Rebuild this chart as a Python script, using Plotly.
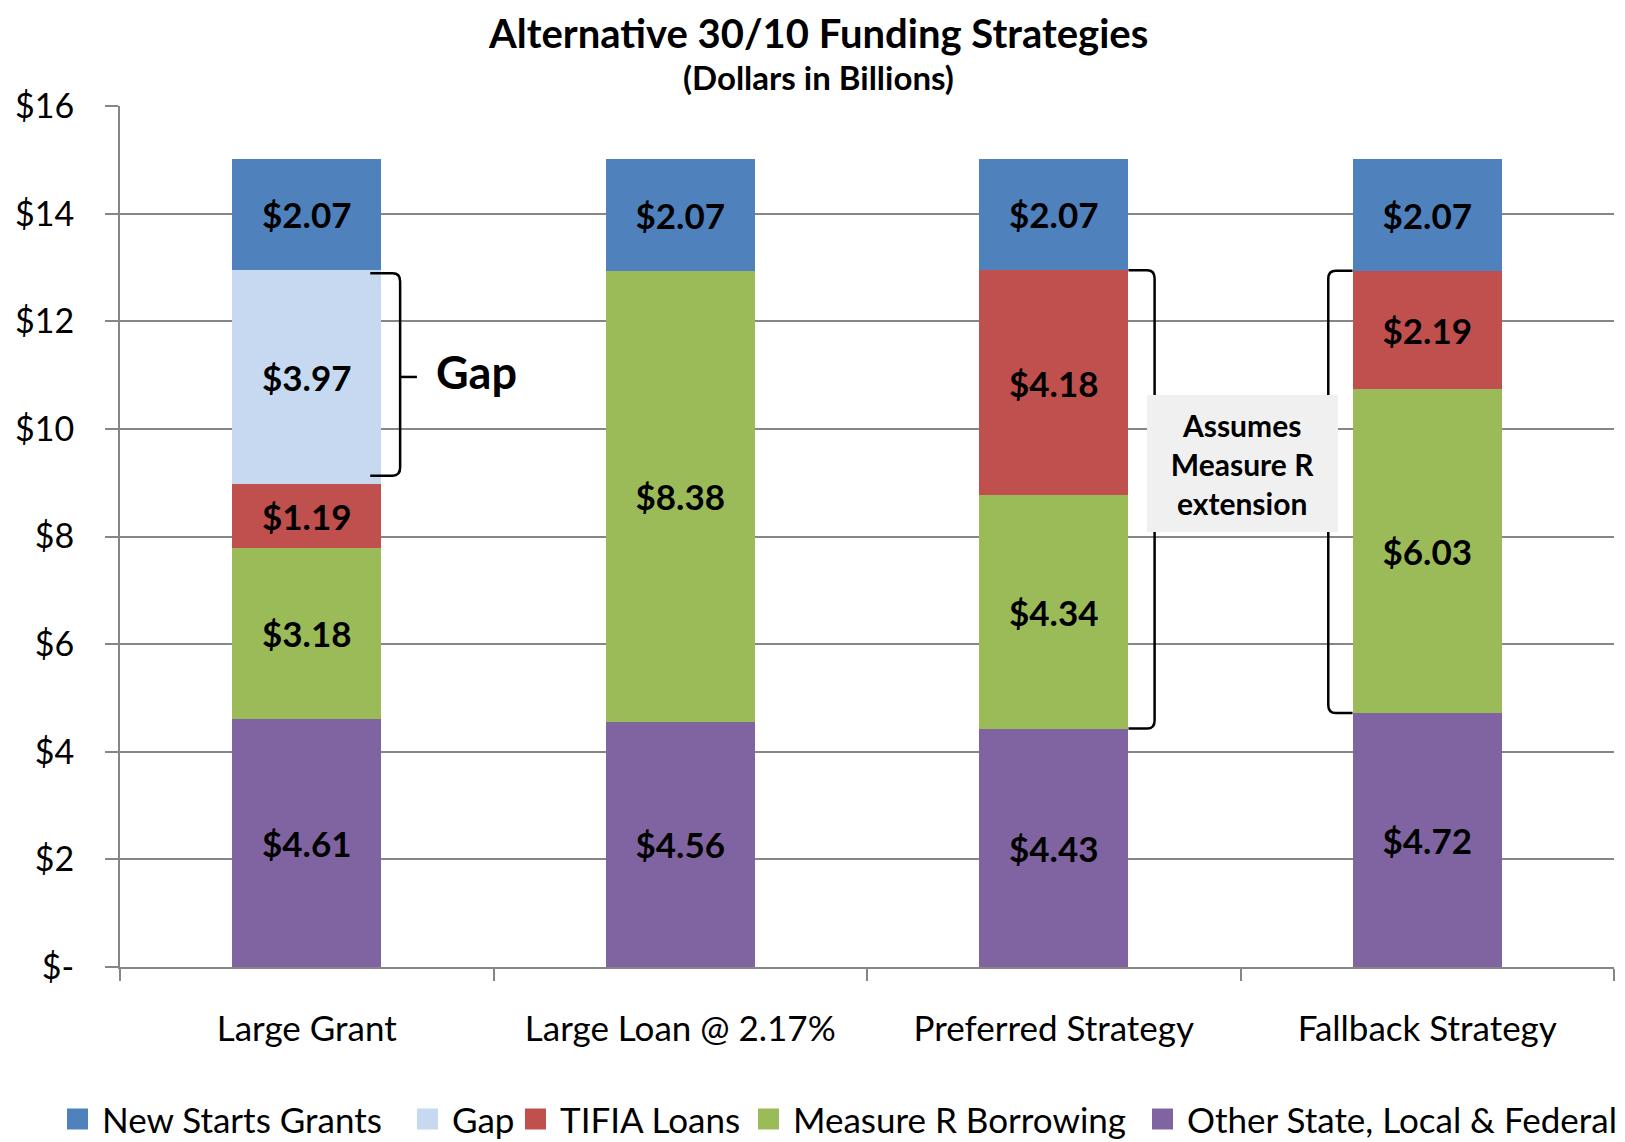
import plotly.graph_objects as go

categories = ["Large Grant", "Large Loan @ 2.17%", "Preferred Strategy", "Fallback Strategy"]
other = [4.61, 4.56, 4.43, 4.72]
measure_r = [3.18, 8.38, 4.34, 6.03]
tifia = [1.19, None, 4.18, 2.19]
gap = [3.97, None, None, None]
new_starts = [2.07, 2.07, 2.07, 2.07]

series = [
    ("Other State, Local & Federal", other, "#8064A2"),
    ("Measure R Borrowing", measure_r, "#9BBB59"),
    ("TIFIA Loans", tifia, "#C0504D"),
    ("Gap", gap, "#C6D9F1"),
    ("New Starts Grants", new_starts, "#4F81BD"),
]

ytick_vals = [0, 2, 4, 6, 8, 10, 12, 14, 16]
ytick_text = ["$-", "$2", "$4", "$6", "$8", "$10", "$12", "$14", "$16"]

FONT = "Lato, Carlito, Calibri, sans-serif"
BAR_W = 0.4
OFF = 8  # default page body margin
W, H = 1625 - OFF, 1142 - OFF
ML, MR, MT, MB = 120 - OFF, 11, 106 - OFF, 175
PW, PH = W - ML - MR, H - MT - MB

def px_x(px):
    return (px - OFF - ML) / PW

def px_y(py):
    return (H - MB - (py - OFF)) / PH

fig = go.Figure()
for name, vals, col in series:
    fig.add_trace(go.Bar(
        x=categories, y=vals, name=name, marker=dict(color=col, line=dict(width=0)),
        width=BAR_W, showlegend=False,
        texttemplate=["$%{y:.2f}" if v is not None else "" for v in vals],
        textposition="inside", insidetextanchor="middle", textangle=0,
        textfont=dict(family=FONT, size=35, color="black", weight="bold"),
        hoverinfo="skip",
    ))

def cum(idx, upto):
    s = 0.0
    for _, vals, _c in series[:upto]:
        v = vals[idx]
        s += v if v is not None else 0.0
    return s

def bracket(x_edge, x_vert, y_top, y_bot, cx, cy):
    s = 1 if x_vert > x_edge else -1
    return (f"M {x_edge},{y_top} L {x_vert - s*cx},{y_top} Q {x_vert},{y_top} {x_vert},{y_top - cy} "
            f"L {x_vert},{y_bot + cy} Q {x_vert},{y_bot} {x_vert - s*cx},{y_bot} L {x_edge},{y_bot}")

line = dict(color="black", width=2.5)
cx, cy = 0.02, 0.15
hw = BAR_W / 2

# Gap bracket (Large Grant)
g_bot = cum(0, 3)
g_top = cum(0, 4)
g_mid = (g_bot + g_top) / 2
xv0 = 0 + hw + 0.05
fig.add_shape(type="path", path=bracket(0 + hw - 0.03, xv0, g_top - 0.06, g_bot + 0.15, cx, cy),
              line=line, xref="x", yref="y")
fig.add_shape(type="path", path=f"M {xv0},{g_mid} L {xv0 + 0.045},{g_mid}", line=line, xref="x", yref="y")
fig.add_annotation(x=0.34, y=g_mid + 0.1, text="<b>Gap</b>", showarrow=False, xanchor="left", yanchor="middle",
                   font=dict(family=FONT, size=45, color="black"))

# Preferred bracket
p_top = cum(2, 3)
p_bot = cum(2, 1)
fig.add_shape(type="path", path=bracket(2 + hw, 2 + hw + 0.07, p_top, p_bot, cx, cy),
              line=line, xref="x", yref="y")
# Fallback bracket
f_top = cum(3, 3)
f_bot = cum(3, 1)
fig.add_shape(type="path", path=bracket(3 - hw, 3 - hw - 0.065, f_top, f_bot, cx, cy),
              line=line, xref="x", yref="y")

fig.add_annotation(x=2.505, y=9.36, text="<b>Assumes<br>Measure R<br>extension</b>", showarrow=False,
                   xanchor="center", yanchor="middle", bgcolor="#F0F0F0", borderpad=4, borderwidth=0,
                   width=183, height=129, font=dict(family=FONT, size=30, color="black"))

# Title and subtitle
fig.add_annotation(xref="paper", yref="paper", x=px_x(818), y=px_y(33), text="<b>Alternative 30/10 Funding Strategies</b>",
                   showarrow=False, xanchor="center", yanchor="middle", font=dict(family=FONT, size=40, color="black"))
fig.add_annotation(xref="paper", yref="paper", x=px_x(818), y=px_y(77), text="<b>(Dollars in Billions)</b>",
                   showarrow=False, xanchor="center", yanchor="middle", font=dict(family=FONT, size=33, color="black"))

# Custom legend (legend order top of stack first)
legend_sq_x = [67, 417, 525, 758, 1152]
legend_y = 1119
sq = 21
for (name, vals, col), lx in zip(reversed(series), legend_sq_x):
    fig.add_shape(type="rect", xref="paper", yref="paper",
                  x0=px_x(lx), x1=px_x(lx + sq), y0=px_y(legend_y + sq / 2), y1=px_y(legend_y - sq / 2),
                  fillcolor=col, line=dict(width=0))
    fig.add_annotation(xref="paper", yref="paper", x=px_x(lx + 33), y=px_y(legend_y), text=name,
                       showarrow=False, xanchor="left", yanchor="middle",
                       font=dict(family=FONT, size=35, color="black"))

fig.update_layout(
    width=W, height=H,
    margin=dict(l=ML, r=MR, t=MT, b=MB, autoexpand=False),
    paper_bgcolor="white", plot_bgcolor="white",
    barmode="stack",
    font=dict(family=FONT, color="black"),
    showlegend=False,
    xaxis=dict(type="category", range=[-0.5, 3.5], showgrid=False, showline=True, linecolor="#868686", linewidth=2,
               ticks="outside", tickson="boundaries", ticklen=12, tickcolor="#868686", tickwidth=2,
               tickfont=dict(family=FONT, size=35, color="black"), ticklabelstandoff=30),
    yaxis=dict(range=[0, 16], tickvals=ytick_vals, ticktext=ytick_text, showgrid=True, gridcolor="#868686",
               gridwidth=2, showline=True, linecolor="#868686", linewidth=2, ticks="outside", ticklen=13,
               tickcolor="#868686", tickwidth=2, zeroline=False,
               tickfont=dict(family=FONT, size=34, color="black"), ticklabelstandoff=24),
)

fig.write_html("out.html")
